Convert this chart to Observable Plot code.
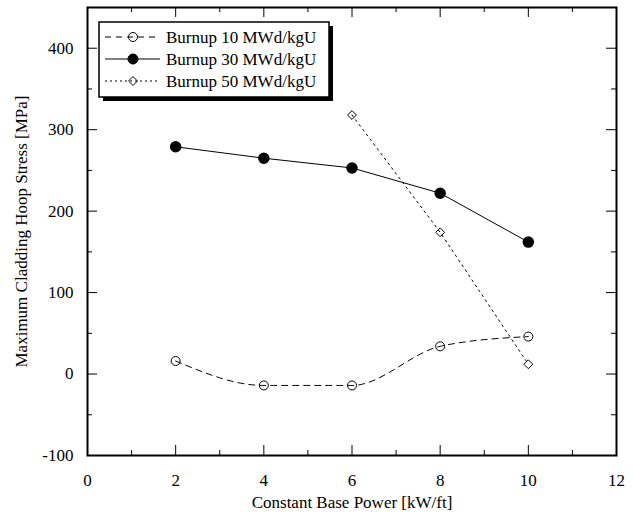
<!DOCTYPE html>
<html><head><meta charset="utf-8">
<script src="https://cdn.jsdelivr.net/npm/d3@7"></script>
<script src="https://cdn.jsdelivr.net/npm/@observablehq/plot@0.6"></script>
<style>
body{margin:0;background:#fff}
#wrap{position:relative;width:634px;height:519px}
#legend{position:absolute;left:0;top:0}
</style>
</head><body><div id="wrap"></div>
<script>
// ---- data ----
const power = [2, 4, 6, 8, 10];
const burnup10 = [16, -14, -14, 34, 46];
const burnup30 = [279, 265, 253, 222, 162];
const power50 = [6, 8, 10];
const burnup50 = [318, 174, 12];
const seriesNames = ["Burnup 10 MWd/kgU", "Burnup 30 MWd/kgU", "Burnup 50 MWd/kgU"];
const xMajor = [0, 2, 4, 6, 8, 10, 12];
const xMinor = [1, 3, 5, 7, 9, 11];
const yMajor = [-100, 0, 100, 200, 300, 400];
const yMinor = [-50, 50, 150, 250, 350];
const xLabel = "Constant Base Power [kW/ft]";
const yLabel = "Maximum Cladding Hoop Stress [MPa]";

const d10 = power.map((x, i) => ({x, y: burnup10[i]}));
const d30 = power.map((x, i) => ({x, y: burnup30[i]}));
const d50 = power50.map((x, i) => ({x, y: burnup50[i]}));

const W = 634, H = 519;
const mL = 87, mR = 18, mT = 7, mB = 64;
const fw = W - mL - mR, fh = H - mT - mB;
const major = 10, minor = 5;

const chart = Plot.plot({
  width: W, height: H,
  marginLeft: mL, marginRight: mR, marginTop: mT, marginBottom: mB,
  style: {fontFamily: "'Liberation Serif', 'Times New Roman', serif", fontSize: "17px", color: "black", background: "white"},
  x: {domain: [0, 12]},
  y: {domain: [-100, 450]},
  marks: [
    // inward ticks, all four sides
    Plot.tickX(xMajor, {x: d => d, insetTop: fh - major, stroke: "black"}),
    Plot.tickX(xMajor, {x: d => d, insetBottom: fh - major, stroke: "black"}),
    Plot.tickX(xMinor, {x: d => d, insetTop: fh - minor, stroke: "black"}),
    Plot.tickX(xMinor, {x: d => d, insetBottom: fh - minor, stroke: "black"}),
    Plot.tickY(yMajor, {y: d => d, insetRight: fw - major, stroke: "black"}),
    Plot.tickY(yMajor, {y: d => d, insetLeft: fw - major, stroke: "black"}),
    Plot.tickY(yMinor, {y: d => d, insetRight: fw - minor, stroke: "black"}),
    Plot.tickY(yMinor, {y: d => d, insetLeft: fw - minor, stroke: "black"}),
    Plot.axisX({ticks: xMajor, tickSize: 0, tickPadding: 18, label: null, tickFormat: d => String(d)}),
    Plot.axisY({ticks: yMajor, tickSize: 0, tickPadding: 14, label: null, tickFormat: d => String(d)}),
    Plot.text([xLabel], {text: d => d, frameAnchor: "bottom", dy: 52}),
    Plot.text([yLabel], {text: d => d, frameAnchor: "left", textAnchor: "middle", rotate: -90, dx: -66}),
    // series
    Plot.line(d10, {x: "x", y: "y", curve: "monotone-x", stroke: "black", strokeWidth: 1, strokeDasharray: "6,5"}),
    Plot.line(d30, {x: "x", y: "y", stroke: "black", strokeWidth: 1}),
    Plot.line(d50, {x: "x", y: "y", stroke: "black", strokeWidth: 1, strokeDasharray: "2,4"}),
    Plot.dot(d10, {x: "x", y: "y", r: 4.5, stroke: "black", fill: "none", strokeWidth: 1}),
    Plot.dot(d30, {x: "x", y: "y", r: 5, fill: "black", stroke: "black"}),
    Plot.dot(d50, {x: "x", y: "y", r: 4, symbol: "diamond2", stroke: "black", fill: "none", strokeWidth: 1}),
    Plot.frame({stroke: "black", strokeWidth: 2})
  ]
});
document.getElementById("wrap").appendChild(chart);

// ---- legend overlay ----
const styles = [
  {dash: "6,5", symbol: d3.symbolCircle, fill: "none", size: Math.PI * 4.5 * 4.5},
  {dash: null, symbol: d3.symbolCircle, fill: "black", size: Math.PI * 5 * 5},
  {dash: "2,3", symbol: d3.symbolDiamond2, fill: "none", size: Math.PI * 4 * 4}
];
const svg = d3.select("#wrap").append("svg").attr("id", "legend").attr("width", W).attr("height", H)
  .style("font-family", "'Liberation Serif', 'Times New Roman', serif").style("font-size", "17px");
const bx = 99, by = 22, bw = 230, bh = 75;
svg.append("rect").attr("x", bx + 4).attr("y", by + 4).attr("width", bw).attr("height", bh).attr("fill", "black");
svg.append("rect").attr("x", bx).attr("y", by).attr("width", bw).attr("height", bh).attr("fill", "white").attr("stroke", "black").attr("stroke-width", 1.5);
seriesNames.forEach((name, i) => {
  const cy = 37 + i * 22;
  const s = styles[i];
  svg.append("line").attr("x1", 105).attr("x2", 160).attr("y1", cy).attr("y2", cy)
    .attr("stroke", "black").attr("stroke-dasharray", s.dash);
  svg.append("path").attr("d", d3.symbol(s.symbol, s.size)()).attr("transform", `translate(133,${cy})`)
    .attr("fill", s.fill).attr("stroke", "black");
  svg.append("text").attr("x", 166).attr("y", cy).attr("dy", "0.35em").text(name);
});
</script>
</body></html>
